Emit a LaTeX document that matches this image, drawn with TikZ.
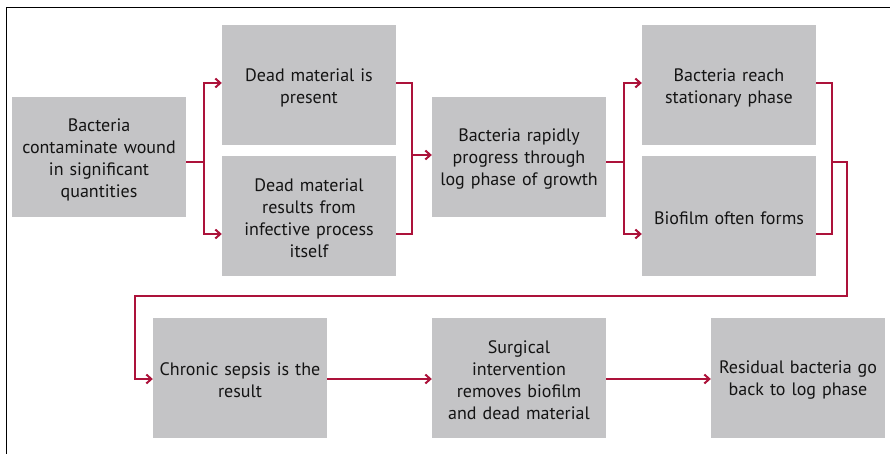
\documentclass[tikz,border=0pt]{standalone}
\usepackage{fontspec}
\setmainfont{PT Sans}
\usetikzlibrary{arrows.meta}
\definecolor{crim}{RGB}{172,18,58}
\definecolor{boxgray}{RGB}{196,196,198}
\definecolor{txt}{RGB}{20,20,20}
\tikzset{
  stepbox/.style={draw=none, minimum width=174pt, minimum height=120pt,
    preaction={fill=boxgray, transform canvas={yshift=2.5pt}},
    inner sep=0pt, text width=172pt, align=center, text=txt,
    font=\fontsize{18}{22}\selectfont},
  conn/.style={draw=crim, line width=2pt},
  arr/.style={conn, -{Straight Barb[length=5pt,width=9pt,line width=2pt]}},
}
\begin{document}
\begin{tikzpicture}[x=1pt,y=-1pt]
\useasboundingbox (0,0) rectangle (890,454);
% frame
\draw[line width=1.3pt] (6.5,454) -- (6.5,7.5) -- (890,7.5);
% boxes (text centre sits 2.5pt below the grey box centre)
\node[stepbox] (A)  at (99,159.5)  {Bacteria\\contaminate wound\\in significant\\quantities};
\node[stepbox] (B1) at (309,88)  {Dead material is\\present};
\node[stepbox] (B2) at (309,218.5) {Dead material\\results from\\infective process\\itself};
\node[stepbox] (C)  at (519,159.5) {Bacteria rapidly\\progress through\\log phase of growth};
\node[stepbox] (D1) at (729,88)  {Bacteria reach\\stationary phase};
\node[stepbox] (D2) at (729,218.5) {Biofilm often forms};
\node[stepbox] (E)  at (240,380) {Chronic sepsis is the\\result};
\node[stepbox] (F)  at (519,380) {Surgical\\intervention\\removes biofilm\\and dead material};
\node[stepbox] (G)  at (798,380) {Residual bacteria go\\back to log phase};
% junction coordinates
\coordinate (j1) at (203.5,162);
\coordinate (j2) at (411.5,155);
\coordinate (j3) at (623.5,162);
\coordinate (j4) at (831.5,162);
\coordinate (r1) at (847,296);
\coordinate (r2) at (134.5,296);
% connectors
\draw[conn] (A.east |- j1) -- (j1);
\draw[arr] (j1) |- (B1.west |- 0,83);
\draw[arr] (j1) |- (B2.west |- 0,234);
\draw[conn] (B1.east |- 0,83) -| (j2);
\draw[conn] (B2.east |- 0,234) -| (j2);
\draw[arr] (j2) -- (C.west |- j2);
\draw[conn] (C.east |- j3) -- (j3);
\draw[arr] (j3) |- (D1.west |- 0,83);
\draw[arr] (j3) |- (D2.west |- 0,234);
\draw[conn] (D1.east |- 0,83) -| (j4);
\draw[conn] (D2.east |- 0,234) -| (j4);
\draw[arr] (j4) -| (r1) -- (r2) |- (E.west |- 0,379);
\draw[arr] (E.east |- 0,379) -- (F.west |- 0,379);
\draw[arr] (F.east |- 0,379) -- (G.west |- 0,379);
\end{tikzpicture}
\end{document}
